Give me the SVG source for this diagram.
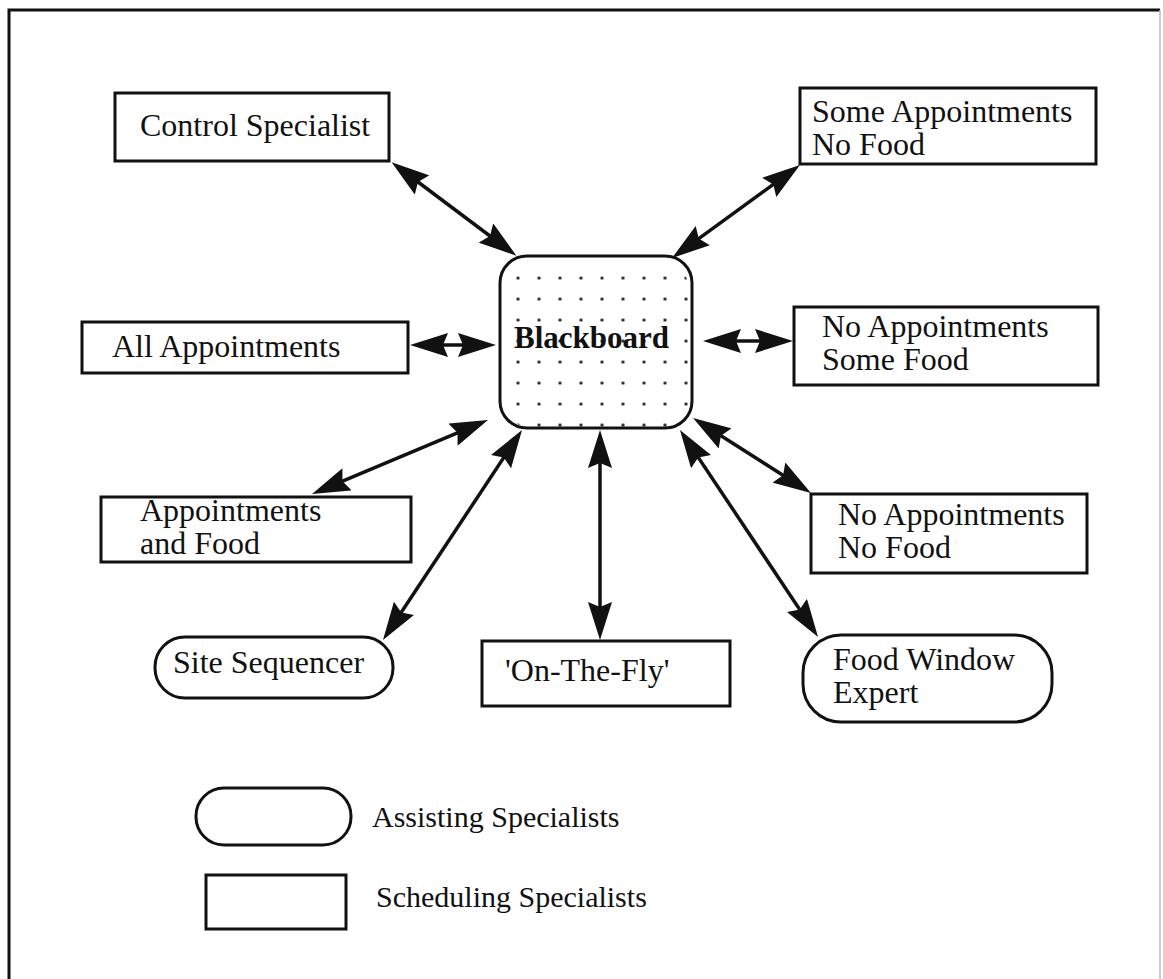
<svg xmlns="http://www.w3.org/2000/svg" width="1163" height="979" viewBox="0 0 1163 979">
<style>
.box{fill:#fff;stroke:#111;stroke-width:3}
.t{font-family:"Liberation Serif","Times New Roman",serif;font-size:32px;fill:#111}
.lg{font-size:30px}
.b{font-weight:bold;font-size:31px}
.c{stroke:#111;stroke-width:3.5;fill:none;marker-start:url(#ah);marker-end:url(#ah)}
</style>
<defs>
<marker id="ah" markerUnits="userSpaceOnUse" viewBox="0 0 38 24" refX="30" refY="12" markerWidth="38" markerHeight="24" orient="auto-start-reverse">
<path d="M0,0 L38,12 L0,24 L5,12 z" fill="#111"/>
</marker>
<pattern id="dots" patternUnits="userSpaceOnUse" x="507.5" y="267.5" width="21" height="21">
<circle cx="10.5" cy="10.5" r="1.6" fill="#111"/>
</pattern>
</defs>
<rect width="1163" height="979" fill="#fff"/>
<g id="frame">
<path d="M9,979 V10 H1160" fill="none" stroke="#111" stroke-width="3"/>
<path d="M1160,10 V979" fill="none" stroke="#bbb" stroke-width="1.5"/>
</g>
<g id="connectors">
<line class="c" x1="398" y1="167" x2="510" y2="251"/>
<line class="c" x1="793.5" y1="169.7" x2="678.5" y2="253.3"/>
<line class="c" x1="418" y1="345" x2="488" y2="345"/>
<line class="c" x1="711" y1="341" x2="785" y2="341"/>
<line class="c" x1="319.4" y1="490.9" x2="480.6" y2="423.1"/>
<line class="c" x1="387.4" y1="633.3" x2="517.6" y2="436.7"/>
<line class="c" x1="600" y1="438" x2="600" y2="632"/>
<line class="c" x1="684.4" y1="436.6" x2="813.6" y2="630.4"/>
<line class="c" x1="699.8" y1="422.3" x2="804.2" y2="488.7"/>
</g>
<g id="blackboard">
<rect x="506" y="264" width="182" height="163" rx="22" fill="url(#dots)"/>
<rect x="500" y="256" width="192" height="172" rx="27" fill="none" stroke="#111" stroke-width="3"/>
<text class="t b" x="514" y="348">Blackboard</text>
</g>
<g id="control-specialist">
<rect class="box" x="115" y="93" width="274" height="68"/>
<text class="t" x="140" y="136">Control Specialist</text>
</g>
<g id="some-appointments-no-food">
<rect class="box" x="800" y="88" width="296" height="76"/>
<text class="t" x="812" y="122">Some Appointments</text>
<text class="t" x="812" y="155">No Food</text>
</g>
<g id="all-appointments">
<rect class="box" x="82" y="322" width="326" height="51"/>
<text class="t" x="112" y="357">All Appointments</text>
</g>
<g id="no-appointments-some-food">
<rect class="box" x="794" y="307" width="304" height="78"/>
<text class="t" x="822" y="337">No Appointments</text>
<text class="t" x="822" y="370">Some Food</text>
</g>
<g id="appointments-and-food">
<rect class="box" x="101" y="497" width="310" height="65"/>
<text class="t" x="140" y="521">Appointments</text>
<text class="t" x="140" y="554">and Food</text>
</g>
<g id="no-appointments-no-food">
<rect class="box" x="811" y="494" width="276" height="79"/>
<text class="t" x="838" y="525">No Appointments</text>
<text class="t" x="838" y="558">No Food</text>
</g>
<g id="site-sequencer">
<rect class="box" x="155" y="637" width="238" height="61" rx="30"/>
<text class="t" x="173" y="673">Site Sequencer</text>
</g>
<g id="on-the-fly">
<rect class="box" x="482" y="641" width="248" height="65"/>
<text class="t" x="505" y="681">'On-The-Fly'</text>
</g>
<g id="food-window-expert">
<rect class="box" x="803" y="635" width="249" height="87" rx="38"/>
<text class="t" x="833" y="670">Food Window</text>
<text class="t" x="833" y="703">Expert</text>
</g>
<g id="legend-assisting">
<rect class="box" x="196" y="788" width="155" height="57" rx="28"/>
<text class="t lg" x="372" y="827">Assisting Specialists</text>
</g>
<g id="legend-scheduling">
<rect class="box" x="206" y="875" width="140" height="54"/>
<text class="t lg" x="376" y="907">Scheduling Specialists</text>
</g>
</svg>
